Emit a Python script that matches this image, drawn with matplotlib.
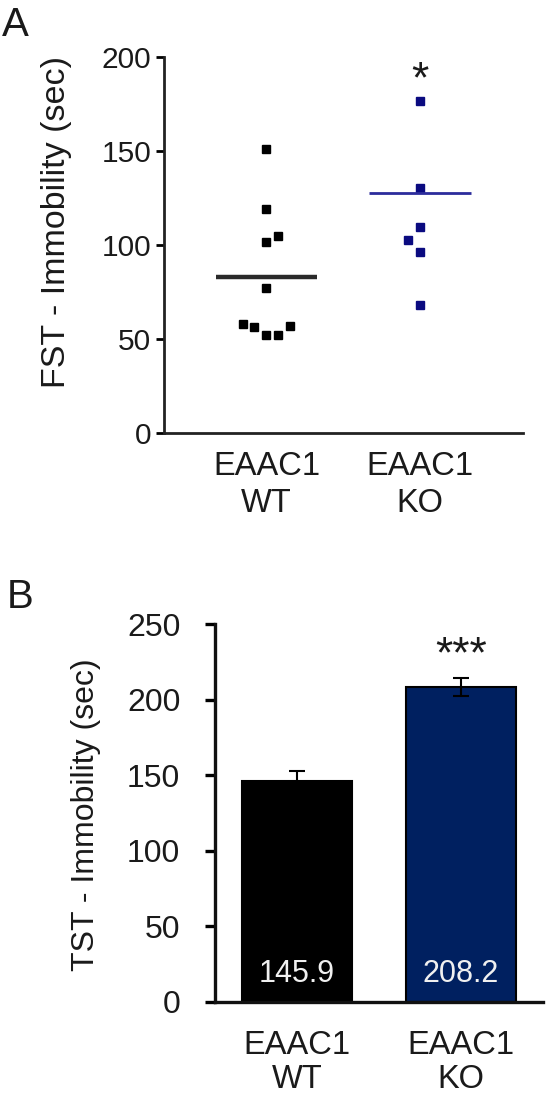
import matplotlib
matplotlib.use('Agg')
from matplotlib import pyplot as plt

plt.rcParams['font.family'] = ['Liberation Sans', 'DejaVu Sans']

groups = ['EAAC1\nWT', 'EAAC1\nKO']

# A: forced swim test, single animals
wt_fst = [150.9, 118.9, 101.7, 104.7, 77.1, 57.9, 56.2, 52.1, 52.1, 56.9]
ko_fst = [176.6, 130.0, 109.6, 102.6, 96.4, 68.0]
fst_means = [82.9, 127.4]
fst_stars = ['', '*']

# B: tail suspension test, mean +/- sem
tst_means = [145.9, 208.2]
tst_sem = [7.0, 6.0]
tst_stars = ['', '***']

# horizontal spread of overlapping dots
wt_jit = [0, 0, 0, 0.076, 0, -0.155, -0.078, 0, 0.076, 0.15]
ko_jit = [0, 0, 0, -0.076, 0, 0]

navy = '#002060'
txt = '#1a1a1a'

fig = plt.figure(figsize=(5.46, 10.99), dpi=100)

# ---------- A ----------
ax = fig.add_axes([0.2995, 0.606, 0.6584, 0.3424])
ax.plot([1 + j for j in wt_jit], wt_fst, 's', ms=5.2, color='black', mec='black')
ax.plot([2 + j for j in ko_jit], ko_fst, 's', ms=5.2, color='#0a0a80', mec='#0a0a80')
ax.hlines(fst_means[0], 1 - 0.33, 1 + 0.33, color='#2a2a2a', lw=3.2)
ax.hlines(fst_means[1], 2 - 0.33, 2 + 0.33, color='#2c2c9c', lw=2.0)
for i, s in enumerate(fst_stars):
    if s:
        ax.text(i + 1, 181, s, ha='center', va='baseline', fontsize=32, color=txt)
ax.set_xlim(0.33, 2.67)
ax.set_ylim(0, 200)
ax.set_yticks([0, 50, 100, 150, 200])
ax.set_xticks([1, 2])
ax.set_xticklabels(groups, fontsize=23.5, color=txt, linespacing=1.25)
ax.tick_params(axis='x', length=0, pad=13)
ax.tick_params(axis='y', length=6, width=2, pad=3, labelsize=21.5, labelcolor=txt)
for sp in ['top', 'right']:
    ax.spines[sp].set_visible(False)
for sp in ['left', 'bottom']:
    ax.spines[sp].set_linewidth(2)
    ax.spines[sp].set_color('#222222')
ax.set_ylabel('FST - Immobility (sec)', fontsize=24.5, color=txt)
ax.yaxis.set_label_coords(-0.255, 0.562)
fig.text(0.004, 1 - 6 / 1099, 'A', fontsize=29, va='top', ha='left', color=txt)

# ---------- B ----------
bx = fig.add_axes([0.3938, 0.0883, 0.6007, 0.3439])
bx.bar([1, 2], tst_means, width=0.67, color=['black', navy], edgecolor='black', lw=1.5,
       yerr=tst_sem, capsize=6, error_kw=dict(elinewidth=1.5, capthick=1.5, ecolor='black'))
for i, v in enumerate(tst_means):
    bx.text(i + 1, 18.5, f'{v:.1f}', ha='center', va='center', fontsize=22, color='#f0f0f0')
for i, s in enumerate(tst_stars):
    if s:
        bx.text(i + 1, 221.5, s, ha='center', va='baseline', fontsize=32, color=txt)
bx.set_xlim(0.5, 2.5)
bx.set_ylim(0, 250)
bx.set_yticks([0, 50, 100, 150, 200, 250])
bx.set_xticks([1, 2])
bx.set_xticklabels(groups, fontsize=23.5, color=txt, linespacing=1.15)
bx.tick_params(axis='x', length=0, pad=20)
bx.tick_params(axis='y', length=7, width=2.4, pad=18, labelsize=23, labelcolor=txt)
for sp in ['top', 'right']:
    bx.spines[sp].set_visible(False)
for sp in ['left', 'bottom']:
    bx.spines[sp].set_linewidth(2.4)
    bx.spines[sp].set_color('#111111')
bx.set_ylabel('TST - Immobility (sec)', fontsize=23, color=txt)
bx.yaxis.set_label_coords(-0.348, 0.495)
fig.text(0.012, 1 - 578 / 1099, 'B', fontsize=29, va='top', ha='left', color=txt)

fig.savefig('out.png', dpi=100)
